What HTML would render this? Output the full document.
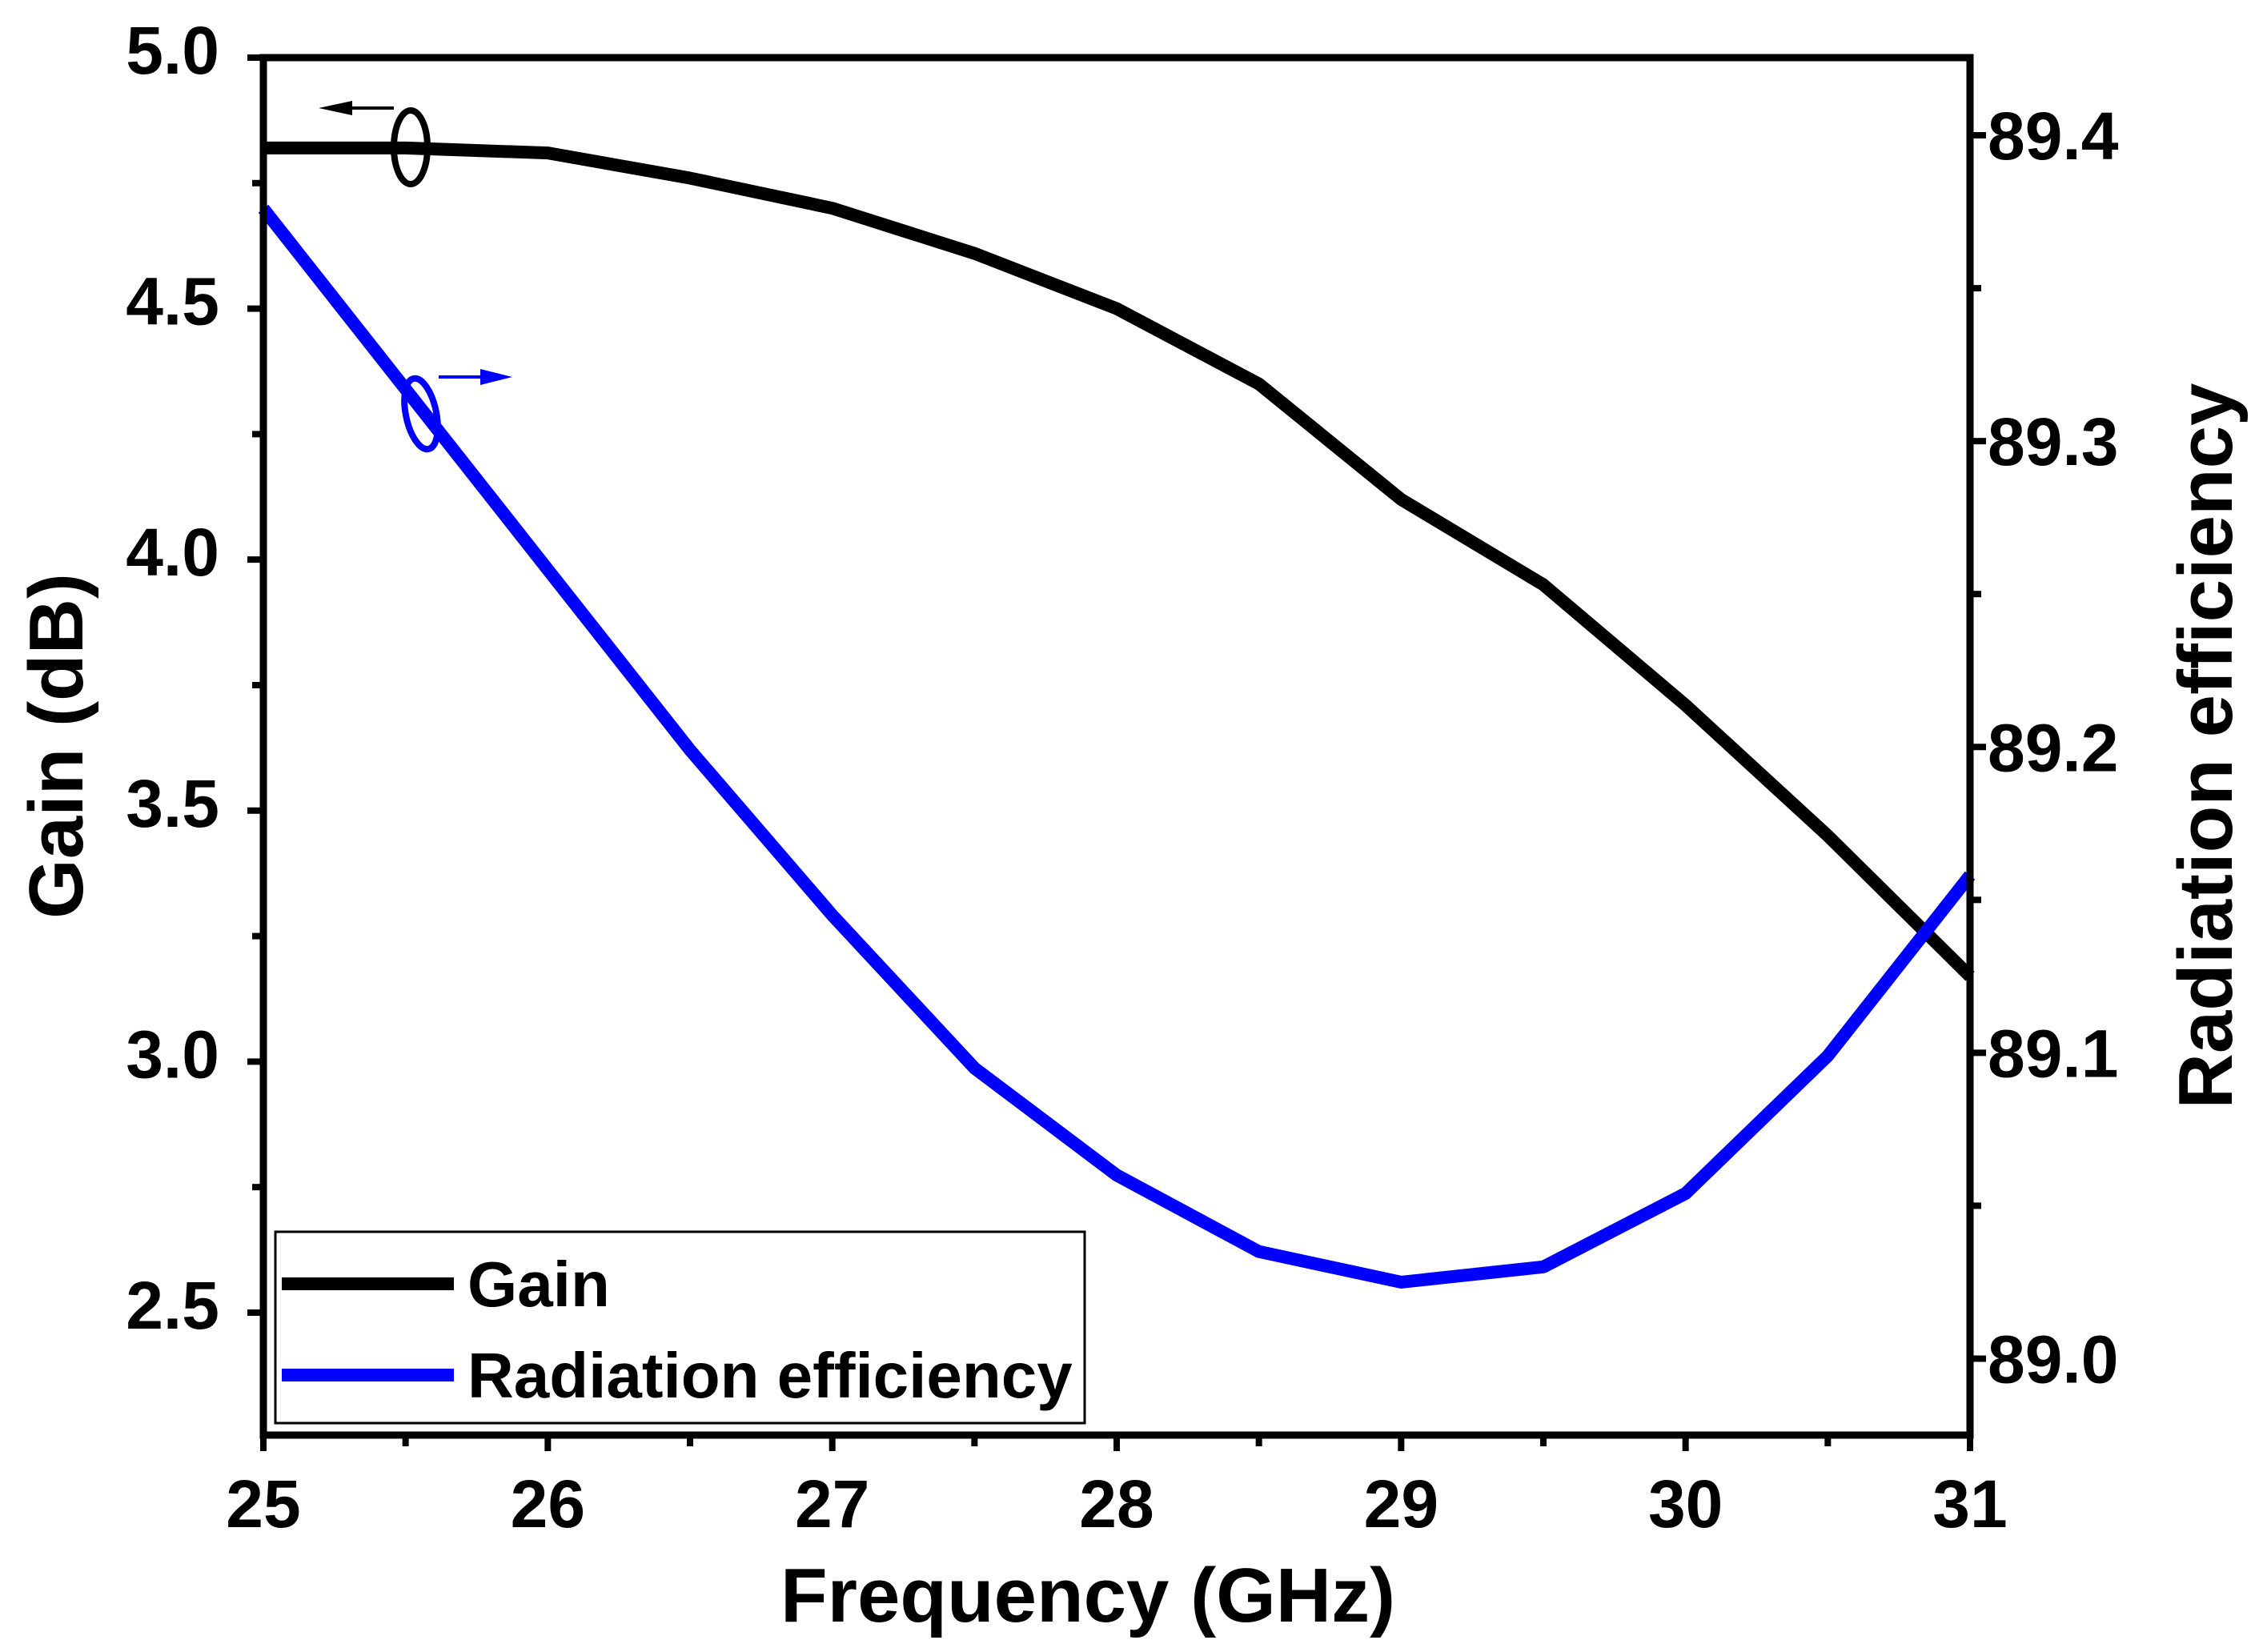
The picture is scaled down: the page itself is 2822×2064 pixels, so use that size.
<!DOCTYPE html>
<html><head><meta charset="utf-8"><style>
html,body{margin:0;padding:0;background:#fff;}
svg text{font-family:"Liberation Sans",Arial,sans-serif;}
</style></head><body>
<svg id="chart" width="2822" height="2059" viewBox="0 0 2822 2059" xmlns="http://www.w3.org/2000/svg">
<g id="marks"></g>
</svg>
<script>
const freq = [25,25.5,26,26.5,27,27.5,28,28.5,29,29.5,30,30.5,31];
const gain = [4.82,4.82,4.81,4.76,4.70,4.61,4.50,4.35,4.12,3.95,3.71,3.45,3.17];
const eff = [89.376,89.317,89.258,89.199,89.145,89.095,89.060,89.035,89.025,89.030,89.054,89.099,89.158];
const xTicks = [25,26,27,28,29,30,31];
const yLeftTicks = [2.5,3.0,3.5,4.0,4.5,5.0];
const yRightTicks = [89.0,89.1,89.2,89.3,89.4];

const L=329, R=2461, T=72, B=1793;
const X=v=>L+(v-25)/6*(R-L);
const YL=v=>T+(5.0-v)/(5.0-2.256)*(B-T);
const YR=v=>T+(89.4254-v)/(89.4254-88.975)*(B-T);
const NS="http://www.w3.org/2000/svg";
const g=document.getElementById('marks');
function mk(tag,attrs,parent){const e=document.createElementNS(NS,tag);for(const k in attrs)e.setAttribute(k,attrs[k]);(parent||g).appendChild(e);return e;}

let p1=freq.map((f,i)=>(i?'L':'M')+X(f)+','+YL(gain[i])).join(' ');
const gl=mk('path',{d:p1,fill:'none',stroke:'#000','stroke-width':16,'stroke-linejoin':'round'});


let p2=freq.map((f,i)=>(i?'L':'M')+X(f)+','+YR(eff[i])).join(' ');
const el=mk('path',{d:p2,fill:'none',stroke:'#0000ff','stroke-width':16,'stroke-linejoin':'round'});



const fr=mk('rect',{x:L,y:T,width:R-L,height:B-T,fill:'none',stroke:'#000','stroke-width':9});



xTicks.forEach(t=>{
  const ln=mk('line',{x1:X(t),x2:X(t),y1:B,y2:B+20,stroke:'#000','stroke-width':8});
  
  
  const tx=mk('text',{x:X(t),y:B+115,'font-size':84,'font-weight':'bold','text-anchor':'middle'});
  tx.textContent=t;
  
  
});
for(let t=25.5;t<31;t+=1){
  const ln=mk('line',{x1:X(t),x2:X(t),y1:B,y2:B+14,stroke:'#000','stroke-width':8});
  
  
}
yLeftTicks.forEach(t=>{
  const ln=mk('line',{x1:L-20,x2:L,y1:YL(t),y2:YL(t),stroke:'#000','stroke-width':8});
  
  
  const tx=mk('text',{x:L-55,y:YL(t)+20,'font-size':84,'font-weight':'bold','text-anchor':'end'});
  tx.textContent=t.toFixed(1);
  
  
});
for(let t=2.75;t<5;t+=0.5){
  const ln=mk('line',{x1:L-14,x2:L,y1:YL(t),y2:YL(t),stroke:'#000','stroke-width':8});
  
  
}
yRightTicks.forEach(t=>{
  const ln=mk('line',{x1:R,x2:R+20,y1:YR(t),y2:YR(t),stroke:'#000','stroke-width':8});
  
  
  const tx=mk('text',{x:R+22,y:YR(t)+30,'font-size':84,'font-weight':'bold','text-anchor':'start'});
  tx.textContent=t.toFixed(1);
  
  
});
for(let t=88.95+0.1;t<89.42;t+=0.1){
  const ln=mk('line',{x1:R,x2:R+14,y1:YR(t),y2:YR(t),stroke:'#000','stroke-width':8});
  
  
}
</script>
<svg style="position:absolute;left:0;top:0" width="2822" height="2059" viewBox="0 0 2822 2059" xmlns="http://www.w3.org/2000/svg">
<text x="1359" y="2026" font-size="96" font-weight="bold" text-anchor="middle" font-family="Liberation Sans, sans-serif">Frequency (GHz)</text>
<text transform="translate(103,932) rotate(-90)" font-size="96" font-weight="bold" text-anchor="middle" font-family="Liberation Sans, sans-serif">Gain (dB)</text>
<text transform="translate(2788,932) rotate(-90)" font-size="96" font-weight="bold" text-anchor="middle" font-family="Liberation Sans, sans-serif">Radiation efficiency</text>
<g>
<ellipse cx="513" cy="184" rx="21" ry="46" fill="none" stroke="#000" stroke-width="8"/>
<line x1="492" y1="135" x2="420" y2="135" stroke="#000" stroke-width="4"/>
<polygon points="398,135 440,126 440,144" fill="#000"/>
</g>
<g>
<ellipse cx="526" cy="517" rx="19" ry="45" transform="rotate(-12 526 517)" fill="none" stroke="#0000ff" stroke-width="8"/>
<line x1="548" y1="471" x2="620" y2="471" stroke="#0000ff" stroke-width="4"/>
<polygon points="640,471 600,461 600,481" fill="#0000ff"/>
</g>
<g>
<rect x="344" y="1539" width="1011" height="239" fill="#fff" stroke="#000" stroke-width="3"/>
<line x1="352" y1="1604" x2="567" y2="1604" stroke="#000" stroke-width="16"/>
<text x="584" y="1632" font-size="80" font-weight="bold" font-family="Liberation Sans, sans-serif">Gain</text>
<line x1="352" y1="1718" x2="567" y2="1718" stroke="#0000ff" stroke-width="16"/>
<text x="584" y="1746" font-size="80" font-weight="bold" font-family="Liberation Sans, sans-serif">Radiation efficiency</text>
</g>
</svg>
</body></html>
